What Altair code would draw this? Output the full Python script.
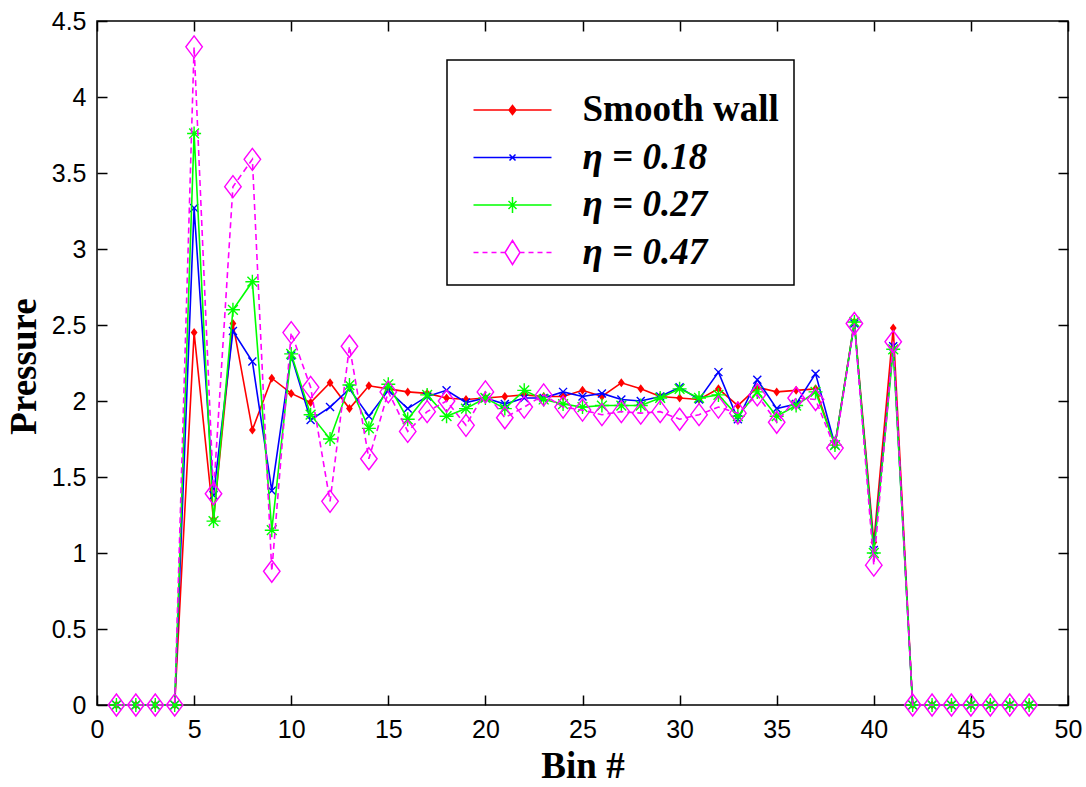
import altair as alt
import pandas as pd

# ---------------- data ----------------
bins = list(range(1, 49))
series_names = ["Smooth wall", "η = 0.18", "η = 0.27", "η = 0.47"]

smooth_wall = [0, 0, 0, 0, 2.45, 1.22, 2.51, 1.81, 2.15, 2.05, 1.99, 2.12, 1.95, 2.10,
               2.08, 2.06, 2.05, 2.02, 2.01, 2.02, 2.03, 2.04, 2.03, 2.03, 2.07, 2.03,
               2.12, 2.08, 2.03, 2.02, 2.01, 2.08, 1.97, 2.09, 2.06, 2.07, 2.08, 1.71,
               2.52, 1.07, 2.48, 0, 0, 0, 0, 0, 0, 0]
eta_018 = [0, 0, 0, 0, 3.27, 1.38, 2.46, 2.26, 1.41, 2.30, 1.875, 1.96, 2.08, 1.90,
           2.07, 1.95, 2.03, 2.07, 1.99, 2.02, 1.98, 2.02, 2.02, 2.06, 2.03, 2.05,
           2.01, 2.00, 2.03, 2.09, 2.01, 2.19, 1.88, 2.14, 1.95, 1.98, 2.18, 1.71,
           2.51, 1.02, 2.36, 0, 0, 0, 0, 0, 0, 0]
eta_027 = [0, 0, 0, 0, 3.76, 1.21, 2.60, 2.785, 1.15, 2.31, 1.91, 1.75, 2.105, 1.82,
           2.11, 1.88, 2.04, 1.90, 1.95, 2.02, 1.95, 2.07, 2.01, 1.98, 1.96, 1.97,
           1.97, 1.97, 2.02, 2.08, 2.02, 2.04, 1.90, 2.06, 1.90, 1.97, 2.06, 1.71,
           2.52, 1.00, 2.34, 0, 0, 0, 0, 0, 0, 0]
eta_047 = [0, 0, 0, 0, 4.33, 1.39, 3.41, 3.59, 0.88, 2.45, 2.09, 1.34, 2.36, 1.62,
           2.06, 1.80, 1.93, 2.00, 1.84, 2.06, 1.89, 1.96, 2.04, 1.96, 1.94, 1.91,
           1.93, 1.92, 1.93, 1.88, 1.91, 1.96, 1.92, 2.04, 1.86, 2.02, 2.01, 1.69,
           2.51, 0.92, 2.39, 0, 0, 0, 0, 0, 0, 0]

x_ticks = [0, 5, 10, 15, 20, 25, 30, 35, 40, 45, 50]
y_ticks = [0, 0.5, 1, 1.5, 2, 2.5, 3, 3.5, 4, 4.5]

colors = ["#ff0000", "#0000ff", "#00ff00", "#ff00ff"]

rows = []
for name, vals in zip(series_names, [smooth_wall, eta_018, eta_027, eta_047]):
    for b, v in zip(bins, vals):
        rows.append({"bin": b, "pressure": v, "series": name})
df = pd.DataFrame(rows)

# ---------------- styles ----------------
W, H = 971, 684
xs = alt.Scale(domain=[0, 50], nice=False, zero=False)
ys = alt.Scale(domain=[0, 4.5], nice=False, zero=False)

marker_paths = [
    "M0,-1L0.75,0L0,1L-0.75,0Z",
    "M-1,-1L1,1M-1,1L1,-1",
    "M0,-1V1M-1,0H1M-0.7,-0.7L0.7,0.7M-0.7,0.7L0.7,-0.7",
    "M0,-1L0.75,0L0,1L-0.75,0Z",
]
marker_sizes = [81, 64, 196, 484]
marker_filled = [True, False, False, False]

legend_paths = [
    "M-3.9,0H3.9M0,-0.45L0.35,0L0,0.45L-0.35,0ZM0,-0.4V0.4M-0.15,-0.2V0.2M0.15,-0.2V0.2",
    "M-3.9,0H3.9M-0.3,-0.3L0.3,0.3M-0.3,0.3L0.3,-0.3",
    "M-3.9,0H3.9M0,-0.8V0.8M-0.4,-0.4L0.4,0.4M-0.4,0.4L0.4,-0.4",
    "M-3.9,0H-3.4M-3.0,0H-2.5M-2.1,0H-1.6M-1.2,0H-0.8M0.8,0H1.2M1.6,0H2.1M2.5,0H3.0M3.4,0H3.9"
    "M0,-1.2L0.75,0L0,1.2L-0.75,0Z",
]

label_x_axis = alt.Axis(
    orient="bottom", values=x_ticks, ticks=False, domain=False, grid=False,
    labelFont="Liberation Sans", labelFontSize=25, labelColor="black",
    labelPadding=12, labelFlush=False, labelOverlap=False, format="~g",
    title="Bin #", titleFont="Liberation Serif", titleFontSize=37,
    titleFontWeight="bold", titleColor="black", titleX=W / 2, titleY=72,
    titleBaseline="alphabetic", titleAlign="center")
label_y_axis = alt.Axis(
    orient="left", values=y_ticks, ticks=False, domain=False, grid=False,
    labelFont="Liberation Sans", labelFontSize=25, labelColor="black",
    labelPadding=11, labelFlush=False, labelOverlap=False, format="~g",
    title="Pressure", titleFont="Liberation Serif", titleFontSize=37,
    titleFontWeight="bold", titleColor="black", titleX=-62, titleY=H / 2 + 3,
    titleAngle=270, titleBaseline="alphabetic", titleAlign="center")


def tick_axis(orient, offset, values):
    return alt.Axis(orient=orient, offset=offset, values=values, labels=False,
                    domain=False, grid=False, tickSize=10, tickColor="black",
                    tickWidth=1.5, title=None)


tick_x_bottom = tick_axis("top", -H, x_ticks)
tick_x_top = tick_axis("bottom", -H, x_ticks)
tick_y_left = tick_axis("right", -W, y_ticks)
tick_y_right = tick_axis("left", -W, y_ticks)

axes_by_layer = {
    0: (label_x_axis, label_y_axis),
    1: (tick_x_bottom, tick_y_left),
    2: (tick_x_top, tick_y_right),
}

layers = []
k = 0
for i, name in enumerate(series_names):
    base = alt.Chart(df).transform_filter(alt.datum.series == name)
    line_kw = dict(color=colors[i], strokeWidth=1.6)
    if i == 3:
        line_kw["strokeDash"] = [6, 4]
    ax = axes_by_layer.get(k, (None, None))
    line = base.mark_line(**line_kw).encode(
        x=alt.X("bin:Q", scale=xs, axis=ax[0]),
        y=alt.Y("pressure:Q", scale=ys, axis=ax[1]),
    )
    k += 1
    ax = axes_by_layer.get(k, (None, None))
    pts = base.mark_point(
        shape=marker_paths[i], size=marker_sizes[i], color=colors[i],
        filled=marker_filled[i], strokeWidth=1.4, opacity=1,
    ).encode(
        x=alt.X("bin:Q", scale=xs, axis=ax[0]),
        y=alt.Y("pressure:Q", scale=ys, axis=ax[1]),
    )
    k += 1
    layers += [line, pts]

leg = alt.Legend(
    orient="none", legendX=350, legendY=39, title=" ", titleFontSize=12,
    titlePadding=5, padding=14.5, strokeColor="black", fillColor="white",
    symbolSize=400, symbolOffset=32.5, labelOffset=51.5, symbolStrokeWidth=1.5,
    labelFont="Liberation Serif", labelFontSize=37, labelFontWeight="bold",
    labelColor="black", rowPadding=9.5, labelLimit=400,
    labelFontStyle=alt.ExprRef("datum.label == 'Smooth wall' ? 'normal' : 'italic'"),
)

legend_layer = alt.Chart(df).transform_filter(alt.datum.bin < 0).mark_point(
    filled=False, opacity=1, strokeWidth=1.5
).encode(
    x=alt.X("bin:Q", scale=xs, axis=None),
    y=alt.Y("pressure:Q", scale=ys, axis=None),
    color=alt.Color("series:N", scale=alt.Scale(domain=series_names, range=colors), legend=leg),
    shape=alt.Shape("series:N", scale=alt.Scale(domain=series_names, range=legend_paths), legend=leg),
)
layers.append(legend_layer)

chart = alt.layer(*layers).resolve_axis(
    x="independent", y="independent"
).properties(
    width=W, height=H,
    padding={"left": 97, "top": 21, "right": 18, "bottom": 82},
    autosize=alt.AutoSizeParams(type="none"),
    background="white",
).configure_view(stroke="black", strokeWidth=1.5).configure_legend(strokeWidth=1.5)

chart.save("out.html", embed_options={"renderer": "svg", "actions": False})
